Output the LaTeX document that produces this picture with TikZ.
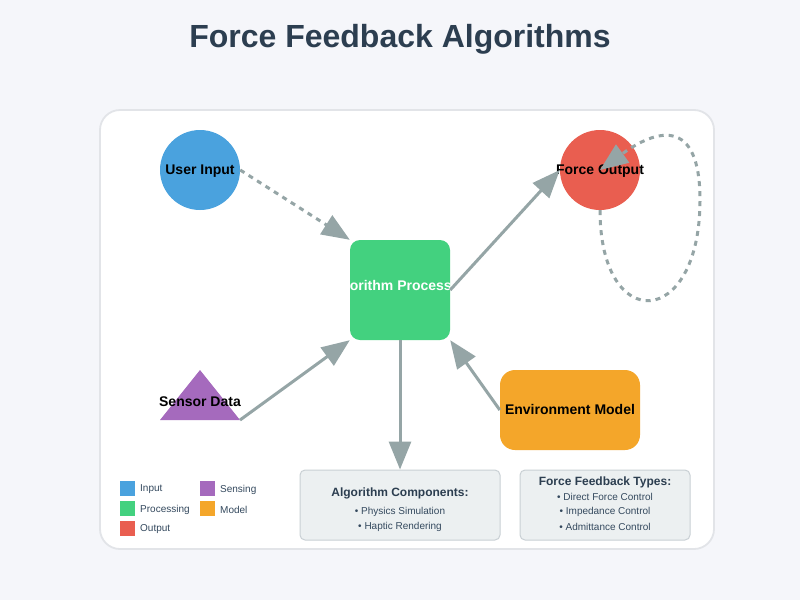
\documentclass[tikz,border=0pt]{standalone}
\usepackage{fontspec}
\setmainfont{Liberation Sans}
\usetikzlibrary{arrows.meta}

\definecolor{pagebg}{HTML}{F5F6FA}
\definecolor{panelborder}{HTML}{E2E4E8}
\definecolor{titlecol}{HTML}{2C3E50}
\definecolor{textcol}{HTML}{34495E}
\definecolor{edgecol}{HTML}{95A5A6}
\definecolor{inblue}{HTML}{4AA2DE}
\definecolor{procgreen}{HTML}{43D17F}
\definecolor{outred}{HTML}{E95E50}
\definecolor{senspurple}{HTML}{A56ABD}
\definecolor{modelorange}{HTML}{F4A62A}
\definecolor{infobg}{HTML}{ECF0F1}
\definecolor{infoborder}{HTML}{C9D0D4}

\tikzset{
  lbl/.style={font=\fontsize{14}{16}\selectfont\bfseries, text=black, inner sep=0pt},
  flow/.style={draw=edgecol, line width=3pt, -{Triangle[length=28pt,width=22pt]}},
  dashflow/.style={flow, dash pattern=on 5pt off 5pt},
  infobox/.style={draw=infoborder, fill=infobg, line width=1pt, rounded corners=5pt, inner sep=0pt},
  infotitle/.style={font=\fontsize{12}{14}\selectfont\bfseries, text=titlecol, inner sep=0pt},
  infoitem/.style={font=\fontsize{10}{12}\selectfont, text=textcol, inner sep=0pt},
  legbox/.style={minimum size=15pt, inner sep=0pt, anchor=north west},
  legtext/.style={font=\fontsize{10}{12}\selectfont, text=textcol, inner sep=0pt, anchor=west},
}

\begin{document}
\begin{tikzpicture}[x=1pt,y=-1pt]
  % page and panel
  \fill[pagebg] (0,0) rectangle (800,600);
  \useasboundingbox (0,0) rectangle (800,600);
  \draw[panelborder, fill=white, line width=1.8pt, rounded corners=20pt] (100,110) rectangle (714,549);

  % title
  \node[font=\fontsize{32}{36}\selectfont\bfseries, text=titlecol] (title) at (400,39) {Force Feedback Algorithms};

  % input
  \node[circle, fill=inblue, minimum size=80pt, inner sep=0pt] (user) at (200,170) {};
  \node[lbl] (userlbl) at (200,171.5) {User Input};

  % output
  \node[circle, fill=outred, minimum size=80pt, inner sep=0pt] (force) at (600,170) {};
  \node[lbl] (forcelbl) at (600,171.5) {Force Output};

  % processing block, its label clipped to the block
  \node[rectangle, rounded corners=10pt, fill=procgreen, minimum width=100pt, minimum height=100pt, inner sep=0pt] (algo) at (400,290) {};
  \begin{scope}
    \clip (350,240) rectangle (450,340);
    \node[lbl, text=white] (algolbl) at (400,286.5) {Algorithm Processing};
  \end{scope}

  % sensing triangle
  \fill[senspurple] (200,370) -- (240,420) -- (160,420) -- cycle;
  \coordinate (sensR) at (240,420);
  \node[lbl] (sensor) at (200,401.5) {Sensor Data};

  % environment model
  \node[rectangle, rounded corners=15pt, fill=modelorange, minimum width=140pt, minimum height=80pt, inner sep=0pt] (env) at (570,410) {};
  \node[lbl] (envlbl) at (570,409.5) {Environment Model};

  % info boxes
  \node[infobox, minimum width=200pt, minimum height=70pt] (comp) at (400,505) {};
  \node[infotitle] (comptitle) at (400,493) {Algorithm Components:};
  \node[infoitem] (comp1) at (400,511.5) {• Physics Simulation};
  \node[infoitem] (comp2) at (400,526.5) {• Haptic Rendering};

  \node[infobox, minimum width=170pt, minimum height=70pt] (types) at (605,505) {};
  \node[infotitle] (typestitle) at (605,482) {Force Feedback Types:};
  \node[infoitem] (type1) at (605,496.5) {• Direct Force Control};
  \node[infoitem] (type2) at (605,511.5) {• Impedance Control};
  \node[infoitem] (type3) at (605,526.5) {• Admittance Control};

  % connectors
  \draw[dashflow] (user.east) -- (algo.north west);
  \draw[flow] (sensR) -- (algo.south west);
  \draw[flow] (algo.east) -- (force.west);
  \draw[flow] (env.west) -- (algo.south east);
  \draw[flow] (algo.south) -- (comp.north);
  \draw[dashflow] (force.south) .. controls (600,335) and (700,330) .. (700,200)
                  .. controls (700,115) and (655,130) .. (force.center);

  % legend
  \node[legbox, fill=inblue] (legin) at (120,481) {};
  \node[legtext] at (140,489.5) {Input};
  \node[legbox, fill=procgreen] (legproc) at (120,501) {};
  \node[legtext] at (140,509.5) {Processing};
  \node[legbox, fill=outred] (legout) at (120,521) {};
  \node[legtext] at (140,529.5) {Output};
  \node[legbox, fill=senspurple] (legsens) at (200,481) {};
  \node[legtext] at (220,489.5) {Sensing};
  \node[legbox, fill=modelorange] (legmodel) at (200,501) {};
  \node[legtext] at (220,509.5) {Model};
\end{tikzpicture}
\end{document}
